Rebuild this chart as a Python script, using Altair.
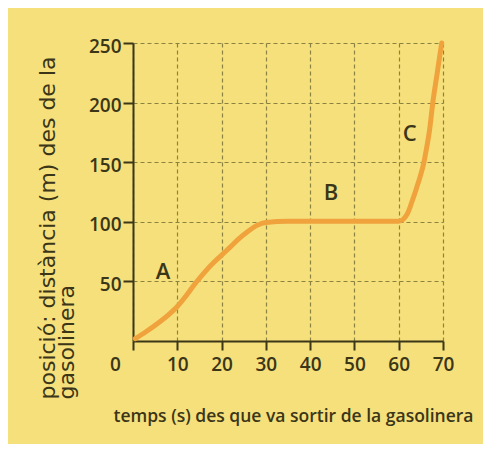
import altair as alt
import pandas as pd

# curve values
time_s = [0.5, 3, 6, 8, 10, 12, 14, 16, 18, 20, 22, 24, 26, 28, 30, 35, 40, 45, 50, 55, 60,
          61, 62, 63, 64, 65, 65.7, 66, 67, 67.7, 68.7, 69.7]
position_m = [2, 8, 16, 22, 29, 38, 48, 57, 65, 72, 79, 86, 92, 97, 99.5, 100.5, 100.5, 100.5, 100.5, 100.5, 100.5,
              102, 107, 117, 128, 140, 150, 156, 178, 200, 225, 250]

seg_labels = ["A", "B", "C"]
seg_x = [6.8, 44.7, 62.5]
seg_y = [58, 124, 174]

x_ticks = [0, 10, 20, 30, 40, 50, 60, 70]
y_ticks = [50, 100, 150, 200, 250]

x_title = "temps (s) des que va sortir de la gasolinera"
y_title = ["posició: distància (m) des de la", "gasolinera"]

curve = pd.DataFrame({"t": time_s, "d": position_m})
labels = pd.DataFrame({"t": seg_x, "d": seg_y, "lab": seg_labels})

INK = "#3b3618"
FONT = "Open Sans"

x_scale = alt.Scale(domain=[0, 70], nice=False, zero=False)
y_scale = alt.Scale(domain=[0, 250], nice=False)

x_axis = alt.Axis(
    values=x_ticks, title=x_title, grid=True, labelFlush=False,
    labelOffset={"condition": {"test": "datum.value == 0", "value": -18}, "value": 0},
    labelPadding=5, labelFontSize=19, labelBaseline="top", labelFontWeight=600,
    titleX=160, titleY=80, titleAlign="center", titleBaseline="alphabetic",
    titleFontSize=17.5, titleFontWeight=600,
)
y_axis = alt.Axis(
    values=y_ticks, title=y_title, grid=True,
    labelPadding=2, labelFontSize=19, labelOffset=3, tickSize=10, labelFontWeight=600,
    titleAngle=270, titleAlign="left", titleBaseline="top",
    titleX=-96, titleY=356, titleLineHeight=19,
    titleFont="DejaVu Sans", titleFontSize=22, titleFontWeight="normal",
)

line = alt.Chart(curve).mark_line(
    color="#f0a33c", strokeWidth=5, strokeCap="round", interpolate="monotone"
).encode(
    x=alt.X("t:Q", scale=x_scale, axis=x_axis),
    y=alt.Y("d:Q", scale=y_scale, axis=y_axis),
)

text = alt.Chart(labels).mark_text(
    font=FONT, fontSize=22, fontWeight=600, color=INK
).encode(
    x=alt.X("t:Q", scale=x_scale, axis=x_axis),
    y=alt.Y("d:Q", scale=y_scale, axis=y_axis),
    text="lab:N",
)

chart = alt.layer(line, text).properties(
    width=310, height=298,
    autosize=alt.AutoSizeParams(type="none"),
    padding={"left": 125, "top": 35, "right": 40, "bottom": 103},
    background="#f6e07c",
).configure_view(stroke=None).configure_axis(
    domainColor=INK, domainWidth=2, tickColor=INK, tickWidth=2, tickSize=9,
    gridColor="#8a8240", gridDash=[4, 3], gridWidth=1.2, gridOpacity=1,
    labelColor=INK, titleColor=INK, labelFont=FONT, titleFont=FONT,
)

chart.save("out.html", embed_options={"renderer": "svg", "actions": False})
